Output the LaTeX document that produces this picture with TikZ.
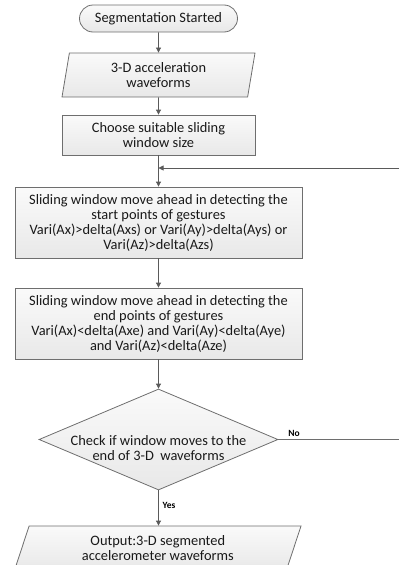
\documentclass[tikz,border=0pt]{standalone}
\usepackage{fontspec}
\setmainfont{Carlito}
\usetikzlibrary{shapes.geometric,shapes.misc,arrows.meta}
\definecolor{linegray}{HTML}{6E6E6E}
\definecolor{arrgray}{HTML}{5A5A5A}
\begin{document}
\begin{tikzpicture}[x=1pt,y=-1pt,
  txt/.style={font=\fontsize{14.4}{15}\selectfont, text=black!90, align=center},
  shp/.style={draw=linegray, line width=0.8pt, top color=black!2, bottom color=black!9, inner sep=0pt, txt},
  boxshape/.style={shp, rectangle},
  startshape/.style={shp, rounded rectangle},
  paral/.style={shp, trapezium, trapezium stretches body=true},
  decide/.style={shp, diamond},
  arr/.style={draw=arrgray, line width=0.8pt, -{Triangle[length=5pt,width=5pt]}},
  plain/.style={draw=linegray, line width=0.8pt},
  yn/.style={font=\fontsize{9.5}{10}\selectfont\bfseries, text=black, inner sep=0pt}
]
\useasboundingbox (0,0) rectangle (399,565);

\node[startshape, minimum width=158pt, minimum height=27pt] (start) at (158.5,18.5) {Segmentation Started};
\node[paral, trapezium left angle=73.6, trapezium right angle=106.4, minimum width=193pt, minimum height=44pt] (in) at (158.5,75) {3-D acceleration\\waveforms};
\node[boxshape, minimum width=193pt, minimum height=40pt] (win) at (158.5,135) {Choose suitable sliding\\window size};
\node[boxshape, minimum width=287pt, minimum height=71pt] (sp) at (158.5,222.5) {Sliding window move ahead in detecting the\\start points of gestures\\Vari(Ax)>delta(Axs) or Vari(Ay)>delta(Ays) or\\Vari(Az)>delta(Azs)};
\node[boxshape, minimum width=287pt, minimum height=71pt] (ep) at (158.5,323.5) {Sliding window move ahead in detecting the\\end points of gestures\\Vari(Ax)<delta(Axe) and Vari(Ay)<delta(Aye)\\and Vari(Az)<delta(Aze)};
\node[decide, minimum width=239pt, minimum height=101pt] (dia) at (158.5,439.5) {};
\node[txt] (diatext) at (158.5,448) {Check if window moves to the\\end of 3-D\ \ waveforms};
\node[paral, trapezium left angle=60, trapezium right angle=120, minimum width=286.4pt, minimum height=44pt] (out) at (157.8,548) {Output:3-D segmented\\accelerometer waveforms};

\coordinate (merge) at (158.5,168);
\coordinate (loopR) at (399,168);
\coordinate (noR) at (399,439.5);

\draw[arr] (start.south) -- (in.north);
\draw[arr] (in.south) -- (win.north);
\draw[arr] (win.south) -- (sp.north);
\draw[arr] (loopR) -- (merge);
\draw[arr] (sp.south) -- (ep.north);
\draw[arr] (ep.south) -- (dia.north);
\draw[arr] (dia.south) -- (dia.south |- out.north);
\draw[plain] (dia.east) -- (noR);
\node[yn] (no) at (294,433) {No};
\node[yn] (yes) at (169,505) {Yes};
\end{tikzpicture}
\end{document}
